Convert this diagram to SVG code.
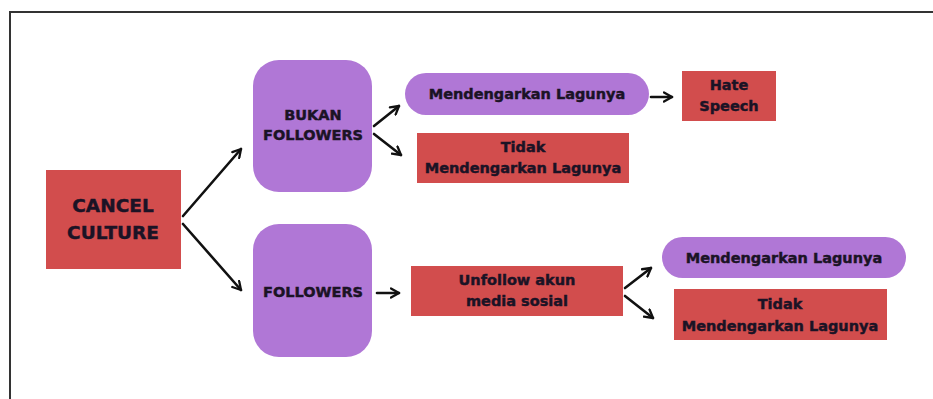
<svg xmlns="http://www.w3.org/2000/svg" width="933" height="399" viewBox="0 0 933 399">
<style>
.red{fill:#d24d4d}
.pur{fill:#b077d6}
.t{font-family:"DejaVu Sans","Liberation Sans",sans-serif;font-weight:bold;fill:#1b1325;stroke:#1b1325;stroke-width:0.45;text-anchor:middle}
.s13{font-size:14.5px}
.s17{font-size:18.5px}
.c{fill:none;stroke:#111;stroke-width:2.6;stroke-linecap:round;marker-end:url(#ah)}
</style>
<defs>
<marker id="ah" viewBox="0 0 10 10" refX="8" refY="5" markerWidth="4.4" markerHeight="4.4" orient="auto" markerUnits="strokeWidth">
<path d="M1,1 L8,5 L1,9" fill="none" stroke="#111" stroke-width="2" stroke-linecap="round" stroke-linejoin="round"/>
</marker>
</defs>
<rect x="0" y="0" width="933" height="399" fill="#fff"/>
<path d="M10,399 V12 H933" fill="none" stroke="#333" stroke-width="2"/>
<g id="cancel">
<rect class="red" x="46" y="170" width="135" height="99"/>
<text class="t s17" x="113" y="212">CANCEL</text>
<text class="t s17" x="113" y="239">CULTURE</text>
</g>
<g id="bukan">
<rect class="pur" x="253" y="60" width="119" height="132" rx="26"/>
<text class="t s13" x="313" y="120">BUKAN</text>
<text class="t s13" x="313" y="140">FOLLOWERS</text>
</g>
<g id="followers">
<rect class="pur" x="253" y="224" width="119" height="133" rx="26"/>
<text class="t s13" x="313" y="297">FOLLOWERS</text>
</g>
<g id="mendengar1">
<rect class="pur" x="405" y="73" width="244" height="42" rx="21"/>
<text class="t s13" x="527" y="99">Mendengarkan Lagunya</text>
</g>
<g id="tidak1">
<rect class="red" x="417" y="133" width="212" height="50"/>
<text class="t s13" x="523" y="152">Tidak</text>
<text class="t s13" x="523" y="173">Mendengarkan Lagunya</text>
</g>
<g id="hate">
<rect class="red" x="682" y="71" width="94" height="50"/>
<text class="t s13" x="729" y="90">Hate</text>
<text class="t s13" x="729" y="111">Speech</text>
</g>
<g id="unfollow">
<rect class="red" x="411" y="266" width="212" height="50"/>
<text class="t s13" x="517" y="285">Unfollow akun</text>
<text class="t s13" x="517" y="306">media sosial</text>
</g>
<g id="mendengar2">
<rect class="pur" x="662" y="237" width="244" height="41" rx="20.5"/>
<text class="t s13" x="784" y="263">Mendengarkan Lagunya</text>
</g>
<g id="tidak2">
<rect class="red" x="674" y="289" width="213" height="51"/>
<text class="t s13" x="780" y="309">Tidak</text>
<text class="t s13" x="780" y="331">Mendengarkan Lagunya</text>
</g>
<g id="connectors">
<path class="c" d="M183,216 L241,149"/>
<path class="c" d="M183,224 L241,290"/>
<path class="c" d="M374,126 L399,106"/>
<path class="c" d="M374,134 L401,155"/>
<path class="c" d="M651,97 L672,97"/>
<path class="c" d="M377,293 L399,293"/>
<path class="c" d="M625,288 L651,268"/>
<path class="c" d="M625,296 L653,318"/>
</g>
</svg>
